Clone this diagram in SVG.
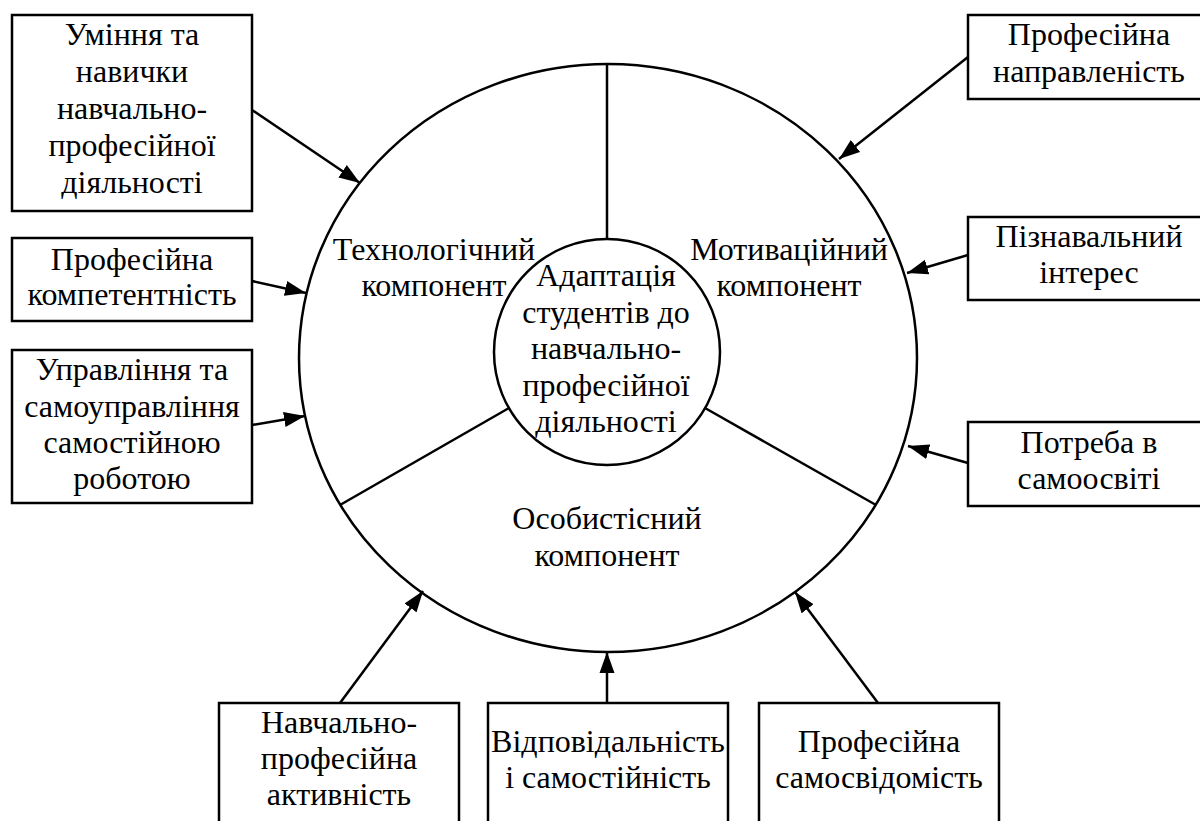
<svg xmlns="http://www.w3.org/2000/svg" width="1200" height="821" viewBox="0 0 1200 821">
<style>
.box{fill:#fff;stroke:#000;stroke-width:2.5}
.ln{fill:none;stroke:#000;stroke-width:2.5}
.t{font-family:"Liberation Serif","DejaVu Serif",serif;font-size:32px;fill:#000;text-anchor:middle}
.ar{fill:none;stroke:#000;stroke-width:2.5;marker-end:url(#ah)}
</style>
<defs>
<marker id="ah" markerUnits="userSpaceOnUse" markerWidth="22" markerHeight="16" refX="21" refY="8" orient="auto">
<path d="M0,0.5 L21,8 L0,15.5 z" fill="#000"/>
</marker>
</defs>
<rect width="1200" height="821" fill="#fff"/>
<g id="center">
<ellipse class="ln" cx="608" cy="358" rx="309" ry="294"/>
<line class="ln" x1="607" y1="64" x2="607" y2="239"/>
<line class="ln" x1="509" y1="408" x2="340" y2="505"/>
<line class="ln" x1="705" y1="408" x2="876" y2="505"/>
<circle class="ln" cx="607" cy="352" r="113"/>
<text class="t" font-family="Liberation Serif, DejaVu Serif, serif"><tspan x="606" y="286">Адаптація</tspan><tspan x="606" y="322.5">студентів до</tspan><tspan x="606" y="359">навчально-</tspan><tspan x="606" y="395.5">професійної</tspan><tspan x="606" y="432">діяльності</tspan></text>
</g>
<g id="tech"><text class="t"><tspan x="434" y="260">Технологічний</tspan><tspan x="434" y="296">компонент</tspan></text></g>
<g id="motiv"><text class="t"><tspan x="789" y="260">Мотиваційний</tspan><tspan x="789" y="296">компонент</tspan></text></g>
<g id="person"><text class="t"><tspan x="607" y="529">Особистісний</tspan><tspan x="607" y="566">компонент</tspan></text></g>
<g id="n1"><rect class="box" x="12" y="15" width="240" height="196"/>
<text class="t"><tspan x="132" y="45">Уміння та</tspan><tspan x="132" y="82">навички</tspan><tspan x="132" y="119">навчально-</tspan><tspan x="132" y="156">професійної</tspan><tspan x="132" y="193">діяльності</tspan></text></g>
<g id="n2"><rect class="box" x="12" y="238" width="240" height="83"/>
<text class="t"><tspan x="132" y="270">Професійна</tspan><tspan x="132" y="305">компетентність</tspan></text></g>
<g id="n3"><rect class="box" x="12" y="350" width="240" height="153"/>
<text class="t"><tspan x="132" y="380">Управління та</tspan><tspan x="132" y="417">самоуправління</tspan><tspan x="132" y="453">самостійною</tspan><tspan x="132" y="489">роботою</tspan></text></g>
<g id="n4"><rect class="box" x="968" y="15" width="245" height="84"/>
<text class="t"><tspan x="1089" y="45">Професійна</tspan><tspan x="1089" y="82">направленість</tspan></text></g>
<g id="n5"><rect class="box" x="968" y="217" width="245" height="83"/>
<text class="t"><tspan x="1089" y="247">Пізнавальний</tspan><tspan x="1089" y="283">інтерес</tspan></text></g>
<g id="n6"><rect class="box" x="968" y="422" width="245" height="84"/>
<text class="t"><tspan x="1089" y="453">Потреба в</tspan><tspan x="1089" y="489">самоосвіті</tspan></text></g>
<g id="n7"><rect class="box" x="219" y="703" width="240" height="130"/>
<text class="t"><tspan x="339" y="733">Навчально-</tspan><tspan x="339" y="769">професійна</tspan><tspan x="339" y="805">активність</tspan></text></g>
<g id="n8"><rect class="box" x="488" y="703" width="240" height="130"/>
<text class="t"><tspan x="608" y="752">Відповідальність</tspan><tspan x="608" y="788">і самостійність</tspan></text></g>
<g id="n9"><rect class="box" x="759" y="703" width="240" height="130"/>
<text class="t"><tspan x="879" y="752">Професійна</tspan><tspan x="879" y="788">самосвідомість</tspan></text></g>
<g id="connectors">
<line class="ar" x1="252" y1="110" x2="360" y2="183"/>
<line class="ar" x1="252" y1="281" x2="306" y2="293"/>
<line class="ar" x1="252" y1="425" x2="305" y2="416"/>
<line class="ar" x1="968" y1="57" x2="839" y2="159"/>
<line class="ar" x1="968" y1="255" x2="907" y2="273"/>
<line class="ar" x1="968" y1="463" x2="908" y2="446"/>
<line class="ar" x1="340" y1="703" x2="423" y2="591"/>
<line class="ar" x1="607" y1="703" x2="607" y2="652"/>
<line class="ar" x1="878" y1="703" x2="795" y2="592"/>
</g>
</svg>
